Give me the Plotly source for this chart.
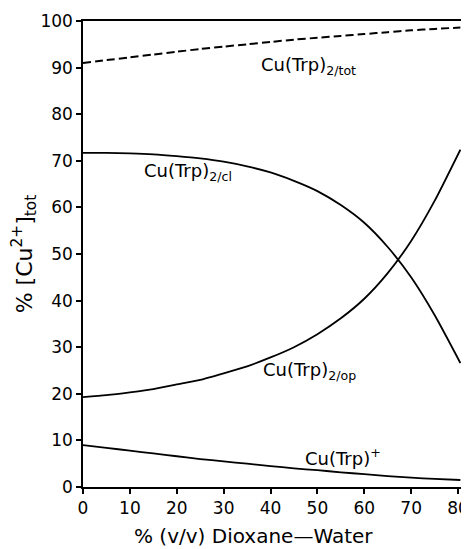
import plotly.graph_objects as go

# Data
x_pts = [0, 5, 10, 15, 20, 25, 30, 35, 40, 45, 50, 55, 60, 65, 70, 75, 80.5]
cu_tot = [91.0, 91.6, 92.2, 92.8, 93.4, 94.0, 94.5, 95.0, 95.5, 96.0, 96.4, 96.8, 97.2, 97.6, 98.0, 98.3, 98.6]
cu_cl = [71.7, 71.7, 71.6, 71.4, 71.0, 70.5, 69.8, 68.8, 67.5, 65.7, 63.5, 60.5, 56.7, 51.5, 45.0, 36.9, 26.6]
cu_op = [19.3, 19.7, 20.3, 21.0, 22.0, 23.0, 24.4, 25.9, 27.8, 30.0, 32.8, 36.2, 40.4, 45.9, 52.8, 61.4, 72.4]
cu_trp = [9.0, 8.4, 7.8, 7.2, 6.6, 6.0, 5.5, 5.0, 4.5, 4.0, 3.6, 3.15, 2.75, 2.35, 2.0, 1.75, 1.5]

x_ticks = [0, 10, 20, 30, 40, 50, 60, 70, 80]
y_ticks = [0, 10, 20, 30, 40, 50, 60, 70, 80, 90, 100]

labels = [
    ("Cu(Trp)<sub>2/tot</sub>", 37.5, 90.3),
    ("Cu(Trp)<sub>2/cl</sub>", 12.5, 67.5),
    ("Cu(Trp)<sub>2/op</sub>", 38, 24.8),
    ("Cu(Trp)<sup>+</sup>", 47, 6.4),
]
x_title = "% (v/v) Dioxane—Water"
y_title = "% [Cu<sup>2+</sup>]<sub>tot</sub>"

FONT = "DejaVu Sans"

fig = go.Figure()
fig.add_trace(go.Scatter(x=x_pts, y=cu_tot, mode="lines",
                         line=dict(color="black", width=2, dash="8px,4px", shape="spline", smoothing=0.6),
                         showlegend=False))
for ys in (cu_cl, cu_op, cu_trp):
    fig.add_trace(go.Scatter(x=x_pts, y=ys, mode="lines",
                             line=dict(color="black", width=1.8, shape="spline", smoothing=0.6),
                             showlegend=False))

for txt, xv, yv in labels:
    fig.add_annotation(x=xv, y=yv, text=txt, showarrow=False, xanchor="left", yanchor="middle",
                       font=dict(family=FONT, size=18, color="black"))

# x-axis title, slightly left of the plot centre as in the reference
fig.add_annotation(xref="paper", yref="paper", x=0.445, y=-0.106, text=x_title, showarrow=False,
                   xanchor="center", yanchor="middle", font=dict(family=FONT, size=20, color="black"))

axis_common = dict(showline=True, mirror=True, linecolor="black", linewidth=1.5, ticks="outside",
                   ticklen=5, tickwidth=1.5, tickcolor="black", showgrid=False, zeroline=False,
                   automargin=False, tickfont=dict(family=FONT, size=17, color="black"))

fig.update_xaxes(range=[0, 81.7], tickvals=x_ticks, ticktext=[str(v) for v in x_ticks], **axis_common)
fig.update_yaxes(range=[0, 100], tickvals=y_ticks, ticktext=[str(v) for v in y_ticks],
                 title=dict(text=y_title, font=dict(family=FONT, size=22, color="black"), standoff=2),
                 **axis_common)

# the page body adds an 8px offset, so the figure is 8px smaller and shifted
fig.update_layout(width=461, height=541, margin=dict(l=75, r=3, t=13, b=62),
                  plot_bgcolor="white", paper_bgcolor="white")

fig.write_html("out.html")
